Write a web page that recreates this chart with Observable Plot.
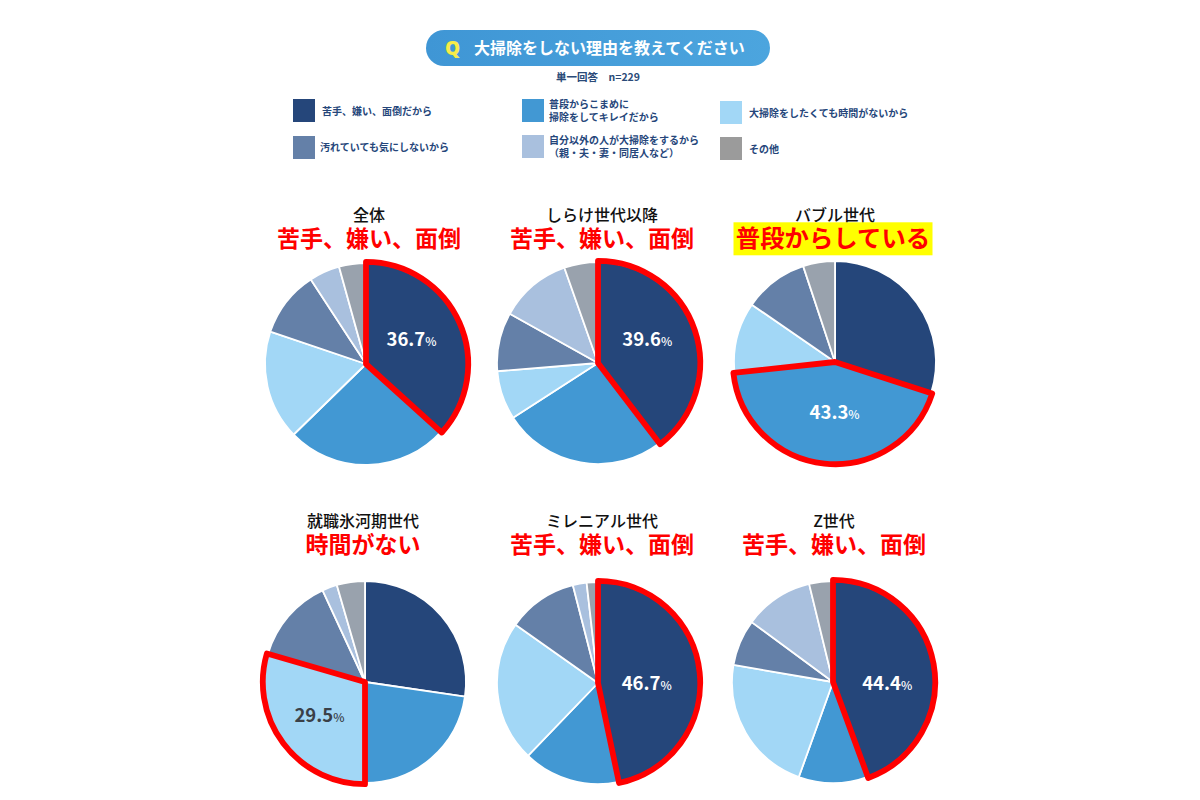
<!DOCTYPE html>
<html lang="ja"><head><meta charset="utf-8">
<script src="https://cdn.jsdelivr.net/npm/d3@7"></script>
<script src="https://cdn.jsdelivr.net/npm/@observablehq/plot@0.6"></script>
<style>
html,body{margin:0;padding:0;background:#fff}
body{width:1200px;height:800px;position:relative;overflow:hidden;font-family:"Noto Sans CJK JP","Noto Sans",sans-serif}
.abs{position:absolute;white-space:nowrap}
#pill{left:426px;top:30px;width:344px;height:36px;border-radius:18px;background:linear-gradient(90deg,#3f96d5,#4ca5de)}
#q{left:445px;top:48px;transform:translateY(-50%);color:#f7ec4a;font:800 19px/1 "Open Sans",sans-serif}
#ttl{left:474px;top:47px;transform:translateY(-50%);color:#fff;font-weight:700;font-size:16px;line-height:1}
#sub{left:598px;top:77px;transform:translate(-50%,-50%);color:#2a4a78;font-weight:700;font-size:10.5px;line-height:1;white-space:pre}
.sw{position:absolute;width:22px;height:23px}
.lg{position:absolute;transform:translateY(-50%);color:#25467a;font-weight:700;font-size:10px;line-height:13px;white-space:pre}
.t1,.t2{position:absolute;transform:translate(-50%,-50%);white-space:nowrap;line-height:1}
.t1{color:#111;font-size:16px;font-weight:500}
.t2{color:#f00;font-size:23px;font-weight:700}
.t2.y{background:#ff0;padding:3px 0 6px;width:199px;text-align:center;font-size:24.4px}
.pie{position:absolute}
.pie svg{display:block;overflow:visible;background:transparent}
</style></head><body>
<div id="pill" class="abs"></div><div id="q" class="abs">Q</div>
<div id="ttl" class="abs">大掃除をしない理由を教えてください</div>
<div id="sub" class="abs">単一回答　n=229</div>
<script>
const reasons = ["苦手、嫌い、面倒だから","普段からこまめに\n掃除をしてキレイだから","大掃除をしたくても時間がないから","汚れていても気にしないから","自分以外の人が大掃除をするから\n（親・夫・妻・同居人など）","その他"];
const sliceColors = ["#25467a","#4298d3","#a2d7f6","#6480a8","#a9c0de","#99a2ad"];
const legendColors = ["#25467a","#4298d3","#a2d7f6","#6480a8","#a9c0de","#9b9b9b"];

const zentai = [36.7,26.0,17.5,10.6,4.9,4.3];
const shirake = [39.6,26.3,7.8,9.4,11.5,5.4];
const bubble = [30.0,43.3,11.3,10.3,0,5.1];
const hyogaki = [27.3,22.7,29.5,13.6,2.4,4.5];
const millennial = [46.7,15.5,22.6,11.2,2.2,1.8];
const genZ = [44.4,11.1,22.2,7.4,11.1,3.8];

const generations = ["全体","しらけ世代以降","バブル世代","就職氷河期世代","ミレニアル世代","Z世代"];
const headlines = ["苦手、嫌い、面倒","苦手、嫌い、面倒","普段からしている","時間がない","苦手、嫌い、面倒","苦手、嫌い、面倒"];
const highlighted = [0,0,1,2,0,0];
const series = [zentai,shirake,bubble,hyogaki,millennial,genZ];

// layout only
const legendLayout = [[293,99,322,110],[522,99,549,110],[720,101,749,112],[293,136,320,146],[522,135,549,146],[720,137,749,148]];
const pieCenters = [[366,364],[598,363],[835,362],[365,682],[598,683],[833,682]];
const headTitleX = [369,602,835,363,602,834];
const headRedX = [369,602,833,363,602,834];
const titleY = [213.5,213.5,213.5,520,520,520];
const redY = [237,237,237,543,543,543];
const labelNudge = [[-2,0],[0,-4],[5,2],[-4,5],[-3,9],[3,14]];
const R = 101, S = 230;

const add = (cls, html, x, y, extra) => {
  const e = document.createElement("div"); e.className = cls; e.textContent = html;
  e.style.left = x + "px"; e.style.top = y + "px"; if (extra) Object.assign(e.style, extra);
  document.body.appendChild(e); return e;
};
reasons.forEach((r,i) => {
  const [sx,sy,tx,ty] = legendLayout[i];
  add("sw","",sx,sy,{background:legendColors[i]});
  add("lg",r,tx,ty);
});
generations.forEach((g,i) => {
  add("t1",g,headTitleX[i],titleY[i]);
  add(i===2?"t2 y":"t2",headlines[i],headRedX[i],i===2?redY[i]+2:redY[i]);
});

// Slices: stacked bars whose x scale runs over radians, drawn as arcs around the frame's centre.
const arcOf = d3.arc();
function sliceRender(index, scales, values, dim) {
  const g = d3.create("svg:g").attr("transform",`translate(${dim.width/2},${dim.height/2})`);
  for (const i of index) {
    if (values.x2[i] === values.x1[i]) continue;
    g.append("path")
      .attr("d",arcOf({innerRadius:0,outerRadius:R,startAngle:values.x1[i],endAngle:values.x2[i]}))
      .attr("fill",values.fill[i]).attr("stroke","#fff").attr("stroke-width",1.8).attr("stroke-linejoin","round");
  }
  return g.node();
}
function highlightRender(rows, which, nudge) {
  return (index, scales, values, dim) => {
    const g = d3.create("svg:g").attr("transform",`translate(${dim.width/2},${dim.height/2})`);
    for (const i of index) {
      if (rows[i].reason !== reasons[which]) continue;
      const a0 = values.x1[i], a1 = values.x2[i], m = (a0+a1)/2, r = 52;
      g.append("path")
        .attr("d",arcOf({innerRadius:0,outerRadius:R+1.2,startAngle:a0,endAngle:a1}))
        .attr("fill","none").attr("stroke","#f00").attr("stroke-width",5.8).attr("stroke-linejoin","round");
      const t = g.append("text").attr("x",r*Math.sin(m)+nudge[0]).attr("y",-r*Math.cos(m)+nudge[1]).attr("text-anchor","middle").attr("dy","0.35em")
        .attr("fill",which===2?"#3a4048":"#fff").attr("font-family",'"Noto Sans CJK JP","Noto Sans",sans-serif').attr("font-weight",700);
      t.append("tspan").attr("font-size",18.5).text(rows[i].value.toFixed(1));
      t.append("tspan").attr("font-size",12).attr("font-weight",500).text("%");
    }
    return g.node();
  };
}
series.forEach((vals,k) => {
  const rows = reasons.map((reason,i) => ({reason, value: vals[i]}));
  const chart = Plot.plot({
    width:S, height:S, margin:0,
    x:{axis:null, domain:[0,100], range:[0,2*Math.PI]},
    color:{domain:reasons, range:sliceColors},
    marks:[
      Plot.barX(rows, Plot.stackX({x:"value", fill:"reason", render:sliceRender})),
      Plot.barX(rows, Plot.stackX({x:"value", fill:"reason", render:highlightRender(rows,highlighted[k],labelNudge[k])}))
    ]
  });
  const box = document.createElement("div"); box.className="pie";
  box.style.left = (pieCenters[k][0]-S/2)+"px"; box.style.top = (pieCenters[k][1]-S/2)+"px";
  box.appendChild(chart); document.body.appendChild(box);
});
</script>
</body></html>
